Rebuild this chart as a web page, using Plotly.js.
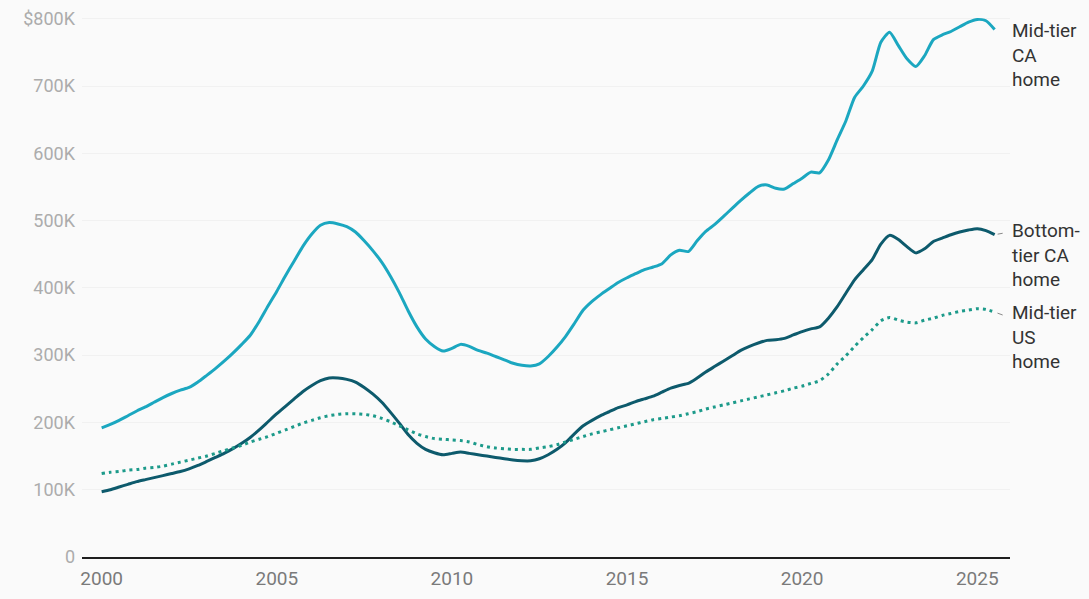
<!DOCTYPE html>
<html>
<head>
<meta charset="utf-8">
<script src="https://cdn.plot.ly/plotly-3.0.1.min.js"></script>
<style>
  html, body { margin: 0; padding: 0; background: #fafafa; }
  #chart { width: 1089px; height: 599px; }
</style>
</head>
<body>
<div id="chart"></div>
<script>
// Quarterly home values, 2000 Q1 through mid-2025, in thousands of dollars.
const startYear = 2000;
const quarterCount = 103;

const midTierCA = [
  192, 197, 203, 210, 217, 223, 230, 237, 243, 248, 252, 260,
  270, 280, 291, 303, 316, 330, 350, 373, 395, 418, 440, 462,
  480, 493, 497, 495, 491, 483, 470, 455, 438, 417, 393, 366,
  342, 324, 313, 306, 310, 316, 313, 307, 303, 298, 293, 288,
  285, 284, 287, 298, 312, 328, 347, 367, 380, 390, 399, 408,
  415, 421, 427, 431, 436, 449, 456, 454, 470, 484, 494, 506,
  518, 530, 541, 551, 553, 548, 547, 555, 563, 572, 571, 590,
  620, 648, 683, 700, 722, 765, 780, 760, 740, 729, 745, 769,
  776, 781, 788, 795, 799, 797, 784
];

const bottomTierCA = [
  97, 100, 104, 108, 112, 115, 118, 121, 124, 127, 131, 136,
  142, 148, 154, 161, 169, 178, 189, 201, 213, 224, 235, 246,
  255, 262, 266, 266, 264, 260, 252, 242, 230, 215, 199, 182,
  169, 160, 155, 152, 154, 156, 154, 152, 150, 148, 146, 144,
  143, 143, 146, 152, 160, 170, 183, 195, 203, 210, 216, 222,
  226, 231, 235, 239, 245, 251, 255, 258, 266, 275, 283, 291,
  299, 307, 313, 318, 322, 323, 325, 330, 335, 339, 342, 355,
  372, 392, 412, 427, 442, 465, 478, 472, 461, 452, 458, 469,
  474, 479, 483, 486, 488, 485, 479
];

const midTierUS = [
  124, 126, 127, 129, 130, 132, 133, 135, 138, 141, 144, 147,
  150, 154, 158, 162, 166, 171, 175, 179, 184, 189, 194, 199,
  203, 207, 210, 212, 213, 213, 212, 210, 206, 201, 195, 189,
  183, 179, 176, 175, 174, 173, 171, 167, 164, 162, 161, 160,
  160, 160, 162, 164, 167, 171, 175, 179, 183, 186, 189, 192,
  195, 198, 201, 204, 206, 208, 210, 213, 216, 220, 223, 226,
  229, 232, 235, 238, 241, 244, 247, 251, 254, 258, 262, 272,
  287, 299, 313, 326, 338, 351, 356, 352, 349, 348, 352, 355,
  359, 362, 365, 367, 369, 368, 364
];

const seriesNames = ['Mid-tier<br>CA<br>home', 'Bottom-<br>tier CA<br>home', 'Mid-tier<br>US<br>home'];

const yTickVals = [0, 100, 200, 300, 400, 500, 600, 700, 800];
const yTickText = ['0', '100K', '200K', '300K', '400K', '500K', '600K', '700K', '$800K'];
const xTickVals = ['2000-01-01', '2005-01-01', '2010-01-01', '2015-01-01', '2020-01-01', '2025-01-01'];
const xTickText = ['2000', '2005', '2010', '2015', '2020', '2025'];

// Quarter start dates matching the value arrays
const dates = [];
for (let i = 0; i < quarterCount; i++) {
  const y = startYear + Math.floor(i / 4);
  const m = (i % 4) * 3 + 1;
  dates.push(y + '-' + String(m).padStart(2, '0') + '-01');
}

const toDollars = arr => arr.map(v => v * 1000);

const colors = {
  midCA: '#1ba7c0',
  bottomCA: '#0d5a6c',
  midUS: '#1c9a8a'
};

const traces = [
  {
    x: dates, y: toDollars(midTierCA), type: 'scatter', mode: 'lines',
    line: { color: colors.midCA, width: 3, shape: 'spline', smoothing: 0.6 },
    hoverinfo: 'skip'
  },
  {
    x: dates, y: toDollars(bottomTierCA), type: 'scatter', mode: 'lines',
    line: { color: colors.bottomCA, width: 3, shape: 'spline', smoothing: 0.6 },
    hoverinfo: 'skip'
  },
  {
    x: dates, y: toDollars(midTierUS), type: 'scatter', mode: 'lines',
    line: { color: colors.midUS, width: 3, dash: '3px,4px', shape: 'spline', smoothing: 0.6 },
    hoverinfo: 'skip'
  }
];

const last = quarterCount - 1;
const labelFont = { family: 'Roboto, "Noto Sans", sans-serif', size: 19, color: '#333333' };
// vertical centre of each three-line label (dollars)
const labelCentres = [746000, 449000, 327000];

const annotations = seriesNames.map((name, i) => ({
  xref: 'paper', yref: 'y', x: 1.0, y: labelCentres[i],
  xanchor: 'left', yanchor: 'middle', xshift: 0, align: 'left',
  text: name, showarrow: false, font: labelFont
}));

// short leader ticks from line ends to labels
annotations.push(
  {
    x: dates[last], y: bottomTierCA[last] * 1000, text: ' ', showarrow: true,
    arrowhead: 0, arrowwidth: 1, arrowcolor: '#8a8a8a', ax: 11, ay: -2, standoff: 3
  },
  {
    x: dates[last], y: midTierUS[last] * 1000, text: ' ', showarrow: true,
    arrowhead: 0, arrowwidth: 1, arrowcolor: '#8a8a8a', ax: 11, ay: 4, standoff: 3
  }
);

const layout = {
  width: 1089,
  height: 599,
  margin: { l: 82, r: 79, t: 12, b: 42 },
  paper_bgcolor: '#fafafa',
  plot_bgcolor: '#fafafa',
  showlegend: false,
  font: { family: 'Roboto, "Noto Sans", sans-serif' },
  xaxis: {
    type: 'date',
    range: ['1999-06-10', '2025-12-08'],
    tickvals: xTickVals,
    ticktext: xTickText,
    tickfont: { size: 19, color: '#7a7a7a' },
    showgrid: false,
    zeroline: false,
    showline: true,
    linecolor: '#1e1e1e',
    linewidth: 2,
    ticks: '',
    ticklabelstandoff: 3,
    fixedrange: true
  },
  yaxis: {
    range: [0, 810000],
    tickvals: yTickVals.map(v => v * 1000),
    ticktext: yTickText,
    tickfont: { size: 18, color: '#acacac' },
    showgrid: true,
    gridcolor: '#f1f1f1',
    gridwidth: 1,
    zeroline: false,
    showline: false,
    ticks: '',
    ticklabelstandoff: 6,
    fixedrange: true
  },
  annotations: annotations
};

Plotly.newPlot('chart', traces, layout, { displayModeBar: false, staticPlot: true });
</script>
</body>
</html>
